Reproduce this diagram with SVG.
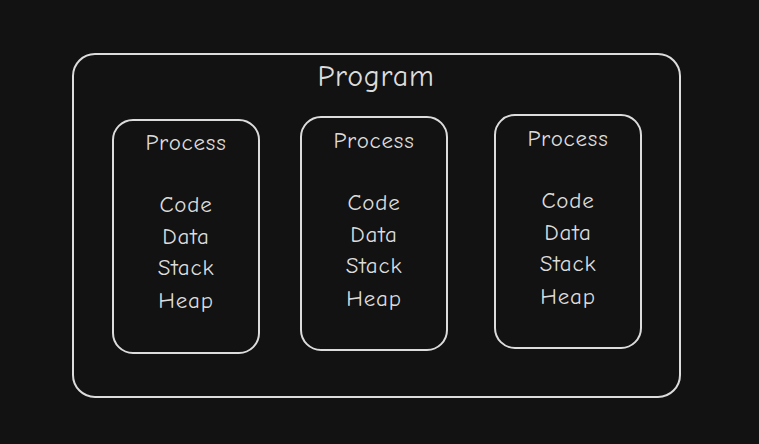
<svg xmlns="http://www.w3.org/2000/svg" width="759" height="444" viewBox="0 0 759 444">
<style>
.b{fill:none;stroke:#dcdcdc;stroke-width:2}
.t{fill:#dcdcdc;font-family:"Comic Neue","Open Sans",sans-serif;text-anchor:middle;dominant-baseline:middle;font-size:23px;letter-spacing:0.8px}
.p{font-size:30px}
</style>
<rect width="759" height="444" fill="#121212"/>
<g id="program"><rect class="b" x="73" y="54" width="607" height="343" rx="22"/><text class="t p" x="376" y="79">Program</text></g>
<g id="process1"><rect class="b" x="113" y="120" width="146" height="233" rx="20"/>
<text class="t" x="186" y="144">Process</text><text class="t" x="186" y="206">Code</text><text class="t" x="186" y="238">Data</text><text class="t" x="186" y="269">Stack</text><text class="t" x="186" y="302">Heap</text></g>
<g id="process2"><rect class="b" x="301" y="117" width="146" height="233" rx="20"/>
<text class="t" x="374" y="142">Process</text><text class="t" x="374" y="204">Code</text><text class="t" x="374" y="236">Data</text><text class="t" x="374" y="267">Stack</text><text class="t" x="374" y="300">Heap</text></g>
<g id="process3"><rect class="b" x="495" y="115" width="146" height="233" rx="20"/>
<text class="t" x="568" y="140">Process</text><text class="t" x="568" y="202">Code</text><text class="t" x="568" y="234">Data</text><text class="t" x="568" y="265">Stack</text><text class="t" x="568" y="298">Heap</text></g>
<g id="connectors"/>
</svg>
